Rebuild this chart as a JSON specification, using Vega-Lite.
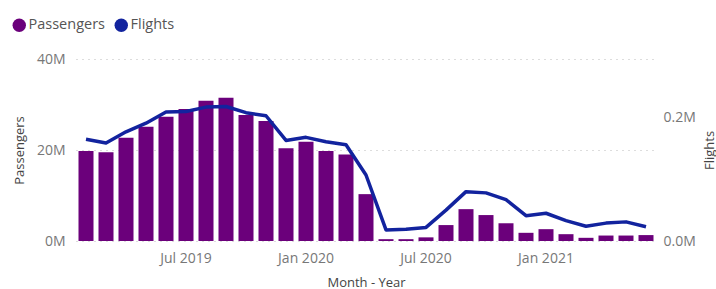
{
  "$schema": "https://vega.github.io/schema/vega-lite/v6.json",
  "width": 580,
  "height": 182,
  "autosize": "none",
  "padding": {"left": 76, "top": 59, "right": 60, "bottom": 48},
  "background": "white",
  "config": {
    "font": "Open Sans",
    "view": {"stroke": null},
    "axis": {"labelFont": "Open Sans", "titleFont": "Open Sans", "labelFontSize": 14, "titleFontSize": 13, "labelColor": "#777777", "titleColor": "#444444", "titleFontWeight": "normal", "ticks": false, "domain": false}
  },
  "data": {"values": [
    {"Month": "Feb 2019", "Passengers": 19800000, "Flights": 165000},
    {"Month": "Mar 2019", "Passengers": 19500000, "Flights": 159000},
    {"Month": "Apr 2019", "Passengers": 22700000, "Flights": 177000},
    {"Month": "May 2019", "Passengers": 25100000, "Flights": 191000},
    {"Month": "Jun 2019", "Passengers": 27300000, "Flights": 209000},
    {"Month": "Jul 2019", "Passengers": 29000000, "Flights": 210000},
    {"Month": "Aug 2019", "Passengers": 30800000, "Flights": 217000},
    {"Month": "Sep 2019", "Passengers": 31500000, "Flights": 218000},
    {"Month": "Oct 2019", "Passengers": 27700000, "Flights": 208000},
    {"Month": "Nov 2019", "Passengers": 26400000, "Flights": 203000},
    {"Month": "Dec 2019", "Passengers": 20400000, "Flights": 163000},
    {"Month": "Jan 2020", "Passengers": 21800000, "Flights": 168000},
    {"Month": "Feb 2020", "Passengers": 19800000, "Flights": 161000},
    {"Month": "Mar 2020", "Passengers": 19000000, "Flights": 156000},
    {"Month": "Apr 2020", "Passengers": 10300000, "Flights": 107000},
    {"Month": "May 2020", "Passengers": 400000, "Flights": 18000},
    {"Month": "Jun 2020", "Passengers": 400000, "Flights": 19000},
    {"Month": "Jul 2020", "Passengers": 800000, "Flights": 22000},
    {"Month": "Aug 2020", "Passengers": 3500000, "Flights": 50000},
    {"Month": "Sep 2020", "Passengers": 7000000, "Flights": 80000},
    {"Month": "Oct 2020", "Passengers": 5700000, "Flights": 78000},
    {"Month": "Nov 2020", "Passengers": 3900000, "Flights": 67000},
    {"Month": "Dec 2020", "Passengers": 1800000, "Flights": 41000},
    {"Month": "Jan 2021", "Passengers": 2600000, "Flights": 45000},
    {"Month": "Feb 2021", "Passengers": 1500000, "Flights": 33000},
    {"Month": "Mar 2021", "Passengers": 700000, "Flights": 24000},
    {"Month": "Apr 2021", "Passengers": 1200000, "Flights": 29000},
    {"Month": "May 2021", "Passengers": 1200000, "Flights": 31000},
    {"Month": "Jun 2021", "Passengers": 1300000, "Flights": 23000}
  ]},
  "encoding": {
    "x": {
      "field": "Month", "type": "ordinal", "sort": null,
      "scale": {"paddingInner": 0.25, "paddingOuter": 0.125},
      "axis": {
        "title": "Month - Year", "labelAngle": 0, "labelPadding": 10, "titlePadding": 11, "grid": false,
        "labelExpr": "indexof(['Jul 2019','Jan 2020','Jul 2020','Jan 2021'], datum.value) >= 0 ? datum.value : ''"
      }
    }
  },
  "layer": [
    {
      "mark": {"type": "bar"},
      "encoding": {
        "y": {
          "field": "Passengers", "type": "quantitative",
          "scale": {"domain": [0, 40000000], "nice": false},
          "axis": {"title": "Passengers", "values": [0, 20000000, 40000000], "labelExpr": "format(datum.value/1e6,'d')+'M'", "labelPadding": 11, "titlePadding": 10, "gridDash": [1, 5], "gridColor": "#BBBBBB", "gridWidth": 1}
        },
        "color": {"datum": "Passengers", "type": "nominal",
          "scale": {"domain": ["Passengers", "Flights"], "range": ["#6B007B", "#12239E"]},
          "legend": {"title": null, "orient": "none", "legendX": -64, "legendY": -41, "direction": "horizontal", "symbolType": "circle", "symbolSize": 180, "labelFontSize": 14.5, "labelColor": "#555555", "labelFont": "Open Sans", "columnPadding": 9, "labelOffset": 2,
            "encode": {"symbols": {"update": {"fill": {"scale": "color", "field": "value"}, "strokeWidth": {"value": 0}, "opacity": {"value": 1}}}}}
        }
      }
    },
    {
      "mark": {"type": "line", "strokeWidth": 3.5, "strokeJoin": "round"},
      "encoding": {
        "y": {
          "field": "Flights", "type": "quantitative",
          "scale": {"domain": [0, 295000], "nice": false},
          "axis": {"title": "Flights", "orient": "right", "values": [0, 200000], "labelExpr": "format(datum.value/1e6,'.1f')+'M'", "labelPadding": 7, "titleAngle": 270, "titleX": 57, "titleY": 91, "titleBaseline": "alphabetic", "gridDash": [1, 5], "gridColor": "#BBBBBB", "gridWidth": 1}
        },
        "color": {"datum": "Flights", "type": "nominal"}
      }
    }
  ],
  "resolve": {"scale": {"y": "independent"}}
}
